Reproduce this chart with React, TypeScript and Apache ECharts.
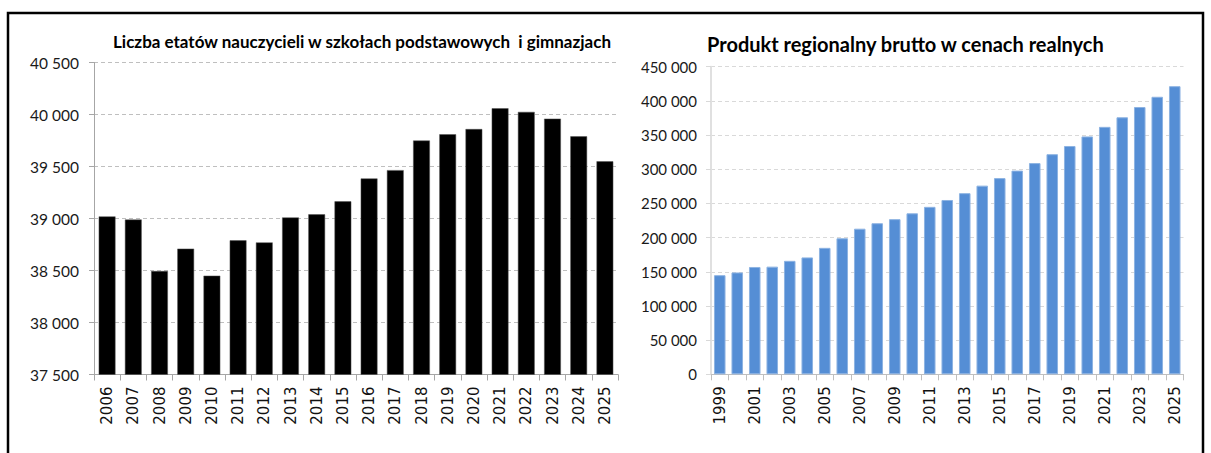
import React, { useEffect, useRef } from "react";
import * as echarts from "echarts";

const teacherYears = ["2006","2007","2008","2009","2010","2011","2012","2013","2014","2015","2016","2017","2018","2019","2020","2021","2022","2023","2024","2025"];
const teacherPosts = [39020, 38990, 38495, 38710, 38450, 38790, 38770, 39010, 39040, 39165, 39385, 39465, 39750, 39810, 39860, 40060, 40025, 39960, 39790, 39550];

const grpYears = ["1999","2000","2001","2002","2003","2004","2005","2006","2007","2008","2009","2010","2011","2012","2013","2014","2015","2016","2017","2018","2019","2020","2021","2022","2023","2024","2025"];
const grpValues = [145000, 149000, 157000, 157500, 166000, 171000, 185000, 199000, 213000, 221000, 227000, 235500, 245000, 255000, 265000, 276000, 287000, 298000, 309000, 322000, 334000, 348000, 362000, 376000, 391000, 406000, 421500];

const leftTitle = "Liczba etatów nauczycieli w szkołach podstawowych  i gimnazjach";
const rightTitle = "Produkt regionalny brutto w cenach realnych";

const fmt = (v: number) => String(v).replace(/\B(?=(\d{3})+(?!\d))/g, " ");

export default function App() {
  const ref = useRef<HTMLDivElement>(null);
  useEffect(() => {
    if (!ref.current) return;
    const chart = echarts.init(ref.current, undefined, { renderer: "svg" });
    const yLabel = { fontFamily: "Lato", fontSize: 15.5, color: "#1a1a1a", margin: 15 };
    const xLabel = { fontFamily: "DejaVu Sans", fontSize: 15, color: "#111", rotate: 90, margin: 12 };
    chart.setOption({
      animation: false,
      backgroundColor: "#fff",
      grid: [
        { left: 94, top: 62.5, width: 524, height: 312 },
        { left: 711, top: 66.7, width: 472.5, height: 307.6 },
      ],
      xAxis: [
        {
          type: "category", gridIndex: 0, data: teacherYears,
          axisLine: { lineStyle: { color: "#a6a6a6", width: 1 } },
          axisTick: { show: true, length: 6, lineStyle: { color: "#a6a6a6" } },
          axisLabel: { ...xLabel, interval: 0 },
        },
        {
          type: "category", gridIndex: 1, data: grpYears,
          axisLine: { lineStyle: { color: "#bfbfbf", width: 1 } },
          axisTick: { show: true, length: 6, interval: 0, lineStyle: { color: "#bfbfbf" } },
          axisLabel: { ...xLabel, interval: 1 },
        },
      ],
      yAxis: [
        {
          type: "value", gridIndex: 0, min: 37500, max: 40500, interval: 500,
          axisLine: { show: true, lineStyle: { color: "#a6a6a6" } },
          axisTick: { show: true, length: 5, lineStyle: { color: "#a6a6a6" } },
          splitLine: { lineStyle: { color: "#bfbfbf", type: [4, 3] } },
          axisLabel: { ...yLabel, formatter: fmt },
        },
        {
          type: "value", gridIndex: 1, min: 0, max: 450000, interval: 50000,
          axisLine: { show: true, lineStyle: { color: "#e0e0e0", width: 2 } },
          axisTick: { show: true, length: 5, lineStyle: { color: "#d9d9d9" } },
          splitLine: { lineStyle: { color: "#d9d9d9", type: [4, 3] } },
          axisLabel: { ...yLabel, fontSize: 15, margin: 14, formatter: fmt },
        },
      ],
      series: [
        {
          type: "bar", xAxisIndex: 0, yAxisIndex: 0, data: teacherPosts,
          barCategoryGap: "36%",
          itemStyle: { color: "#000", borderColor: "#555", borderWidth: 0.5 },
        },
        {
          type: "bar", xAxisIndex: 1, yAxisIndex: 1, data: grpValues,
          barCategoryGap: "34%",
          itemStyle: { color: "#558ed5", borderColor: "#8db3e2", borderWidth: 1 },
        },
      ],
      graphic: [
        {
          type: "rect", silent: true,
          shape: { x: 8, y: 13, width: 1195, height: 500 },
          style: { fill: "none", stroke: "#000", lineWidth: 2.5 },
        },
        {
          type: "text", x: 362, y: 41,
          style: { text: leftTitle, font: "bold 17px Lato", fill: "#000", textAlign: "center", textVerticalAlign: "middle" },
        },
        {
          type: "text", x: 707, y: 44,
          style: { text: rightTitle, font: "bold 20px Lato", fill: "#000", textAlign: "left", textVerticalAlign: "middle" },
        },
      ],
    });
    return () => chart.dispose();
  }, []);
  return <div ref={ref} style={{ position: "fixed", left: 0, top: 0, width: 1211, height: 453 }} />;
}
